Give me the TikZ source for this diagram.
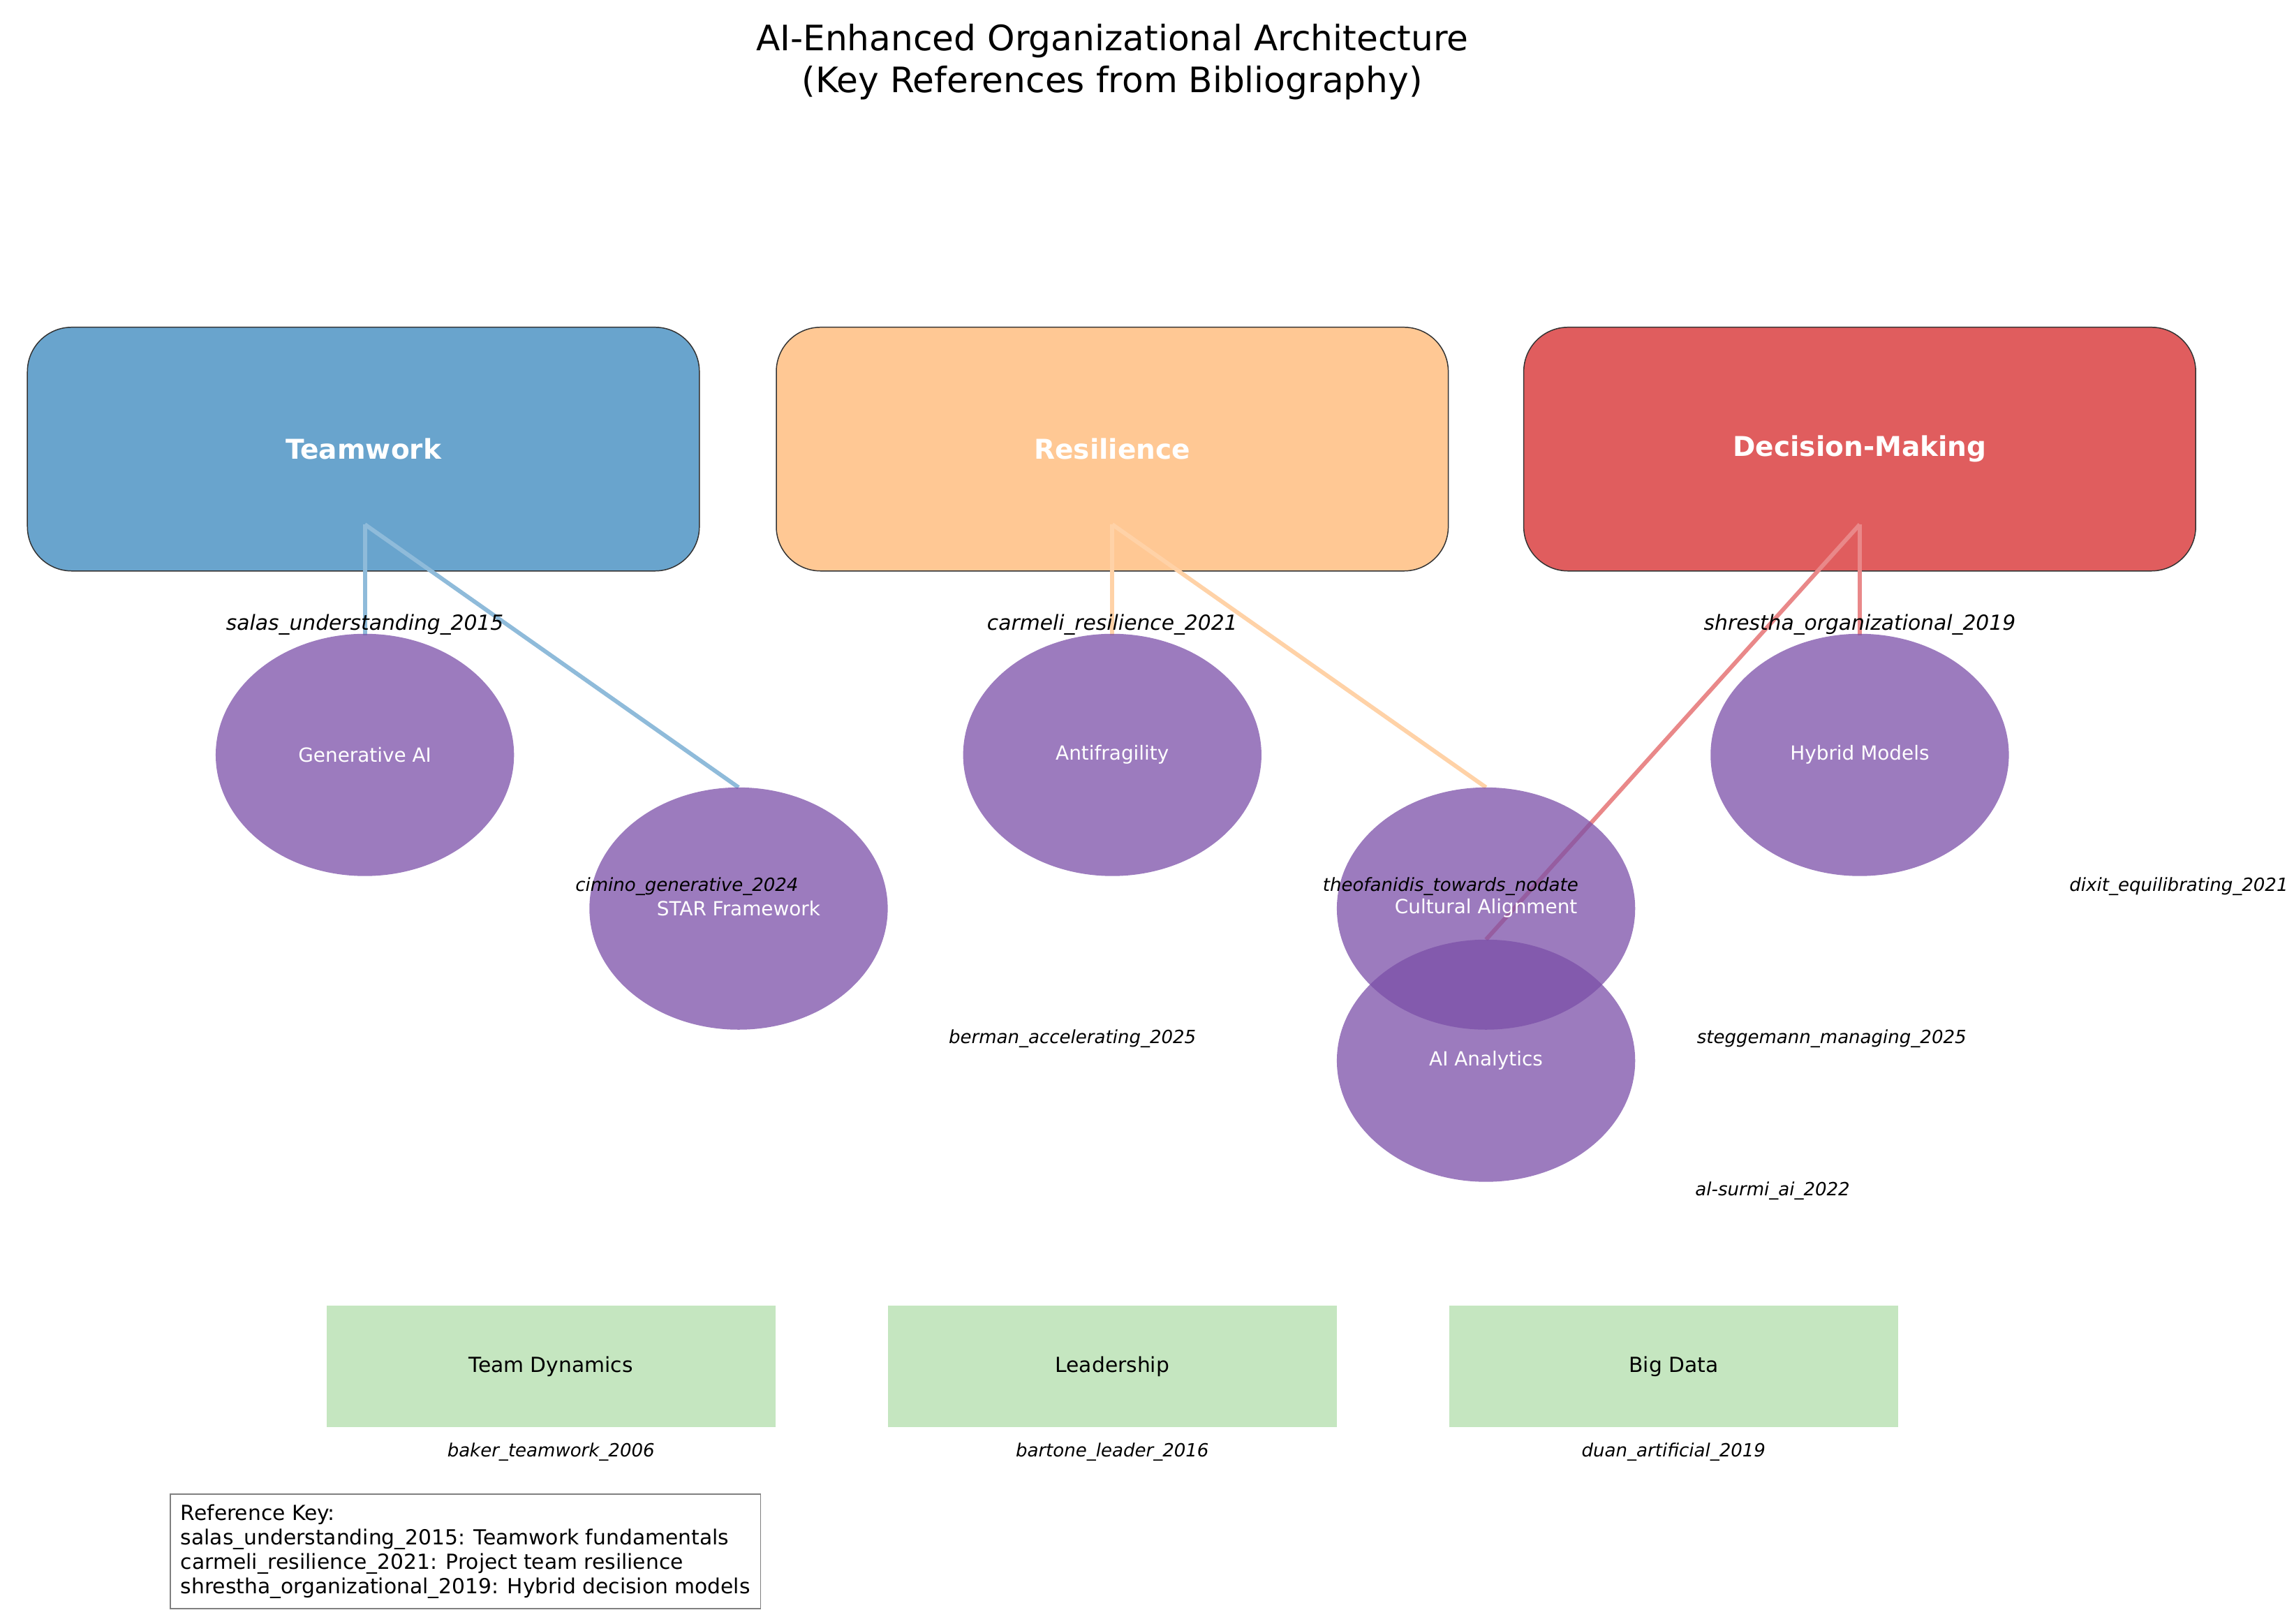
\documentclass[tikz,border=0pt]{standalone}
\usepackage{fontspec}
\setmainfont{DejaVu Sans}
\usetikzlibrary{shapes.geometric}
\begin{document}
\begin{tikzpicture}
  [x=0.02cm,y=-0.02cm
  ,pillar/.style={draw=black!80,rounded corners=0.6cm,minimum width=9.1cm,minimum height=3.3cm,font=\fontsize{10.5}{12}\selectfont\bfseries,text=white}
  ,concept/.style={ellipse,minimum width=4.04cm,minimum height=3.28cm,font=\fontsize{7.5}{9}\selectfont,text=white}
  ,base/.style={minimum width=6.08cm,minimum height=1.64cm,font=\fontsize{8}{10}\selectfont}
  ,cite/.style={font=\fontsize{7}{8}\selectfont\itshape}
  ,bigcite/.style={font=\fontsize{8}{9}\selectfont\itshape}
  ,link/.style={line width=1.6pt}
  ]
  \definecolor{twblue}{HTML}{1F77B4}
  \definecolor{reorange}{HTML}{FF9A3C}
  \definecolor{dmred}{HTML}{D62728}
  \definecolor{cpurple}{HTML}{7B4FA8}
  \definecolor{bgreen}{HTML}{C5E6C0}
  \tikzset{concept/.append style={fill=cpurple,fill opacity=0.75,text opacity=1},
    base/.append style={fill=bgreen}}

  \useasboundingbox (0,0) rectangle (1553,1099);

  % Concept ellipse
  %
  % #1 - name
  % #2 - position
  % #3 - text
  \newcommand{\concept}[3]{
    \node[concept] (#1) at (#2) {#3};
  }

  % title
  \node[align=center,font=\fontsize{13.5}{16}\selectfont] (title) at (753,42)
    {AI-Enhanced Organizational Architecture\\(Key References from Bibliography)};

  % pillars
  \node[pillar,fill=twblue,fill opacity=0.67,text opacity=1] (teamwork) at (246,304) {Teamwork};
  \node[pillar,fill=reorange,fill opacity=0.55,text opacity=1] (resilience) at (753,304) {Resilience};
  \node[pillar,fill=dmred,fill opacity=0.75,text opacity=1] (decision) at (1259,304) {Decision-Making};

  \coordinate (tw-hub) at (247,355);
  \coordinate (re-hub) at (753,355);
  \coordinate (dm-hub) at (1259,355);

  % links
  \draw[link,twblue!50] (tw-hub) -- (247,430);
  \draw[link,twblue!50] (tw-hub) -- (500,533);
  \draw[link,reorange!45] (re-hub) -- (753,430);
  \draw[link,reorange!45] (re-hub) -- (1006,533);
  \draw[link,dmred!55] (dm-hub) -- (1259,430);
  \draw[link,dmred!55] (dm-hub) -- (1006,636);

  % concepts
  \concept{genai}{247,511}{Generative AI}
  \concept{star}{500,615}{STAR Framework}
  \concept{antifrag}{753,511}{Antifragility}
  \concept{hybrid}{1259,511}{Hybrid Models}
  \concept{cultural}{1006,615}{Cultural Alignment}
  \concept{analytics}{1006,718}{AI Analytics}

  % citations
  \node[bigcite] (c-salas) at (247,423) {salas\_understanding\_2015};
  \node[bigcite] (c-carmeli) at (753,423) {carmeli\_resilience\_2021};
  \node[bigcite] (c-shrestha) at (1259,423) {shrestha\_organizational\_2019};
  \node[cite] (c-cimino) at (465,600) {cimino\_generative\_2024};
  \node[cite] (c-theo) at (982,600) {theofanidis\_towards\_nodate};
  \node[cite] (c-dixit) at (1475,600) {dixit\_equilibrating\_2021};
  \node[cite] (c-berman) at (726,703) {berman\_accelerating\_2025};
  \node[cite] (c-stegg) at (1240,703) {steggemann\_managing\_2025};
  \node[cite] (c-surmi) at (1200,806) {al-surmi\_ai\_2022};

  % foundations
  \node[base] (dynamics) at (373,925) {Team Dynamics};
  \node[base] (leadership) at (753,925) {Leadership};
  \node[base] (bigdata) at (1133,925) {Big Data};
  \node[cite] (c-baker) at (373,983) {baker\_teamwork\_2006};
  \node[cite] (c-bartone) at (753,983) {bartone\_leader\_2016};
  \node[cite] (c-duan) at (1133,983) {duan\_artificial\_2019};

  % reference key
  \node[draw=black!50,anchor=north west,align=left,inner sep=4pt,font=\fontsize{8}{9.4}\selectfont] (key) at (115,1011)
    {Reference Key:\\salas\_understanding\_2015: Teamwork fundamentals\\carmeli\_resilience\_2021: Project team resilience\\shrestha\_organizational\_2019: Hybrid decision models};

\end{tikzpicture}
\end{document}
